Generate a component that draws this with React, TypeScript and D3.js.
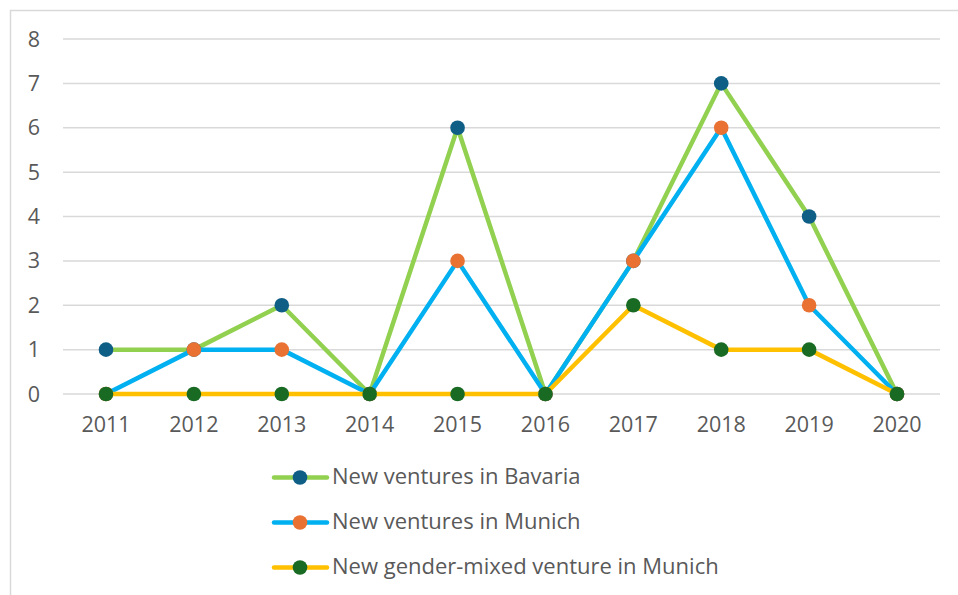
import React from "react";
import * as d3 from "d3";

const years = ["2011", "2012", "2013", "2014", "2015", "2016", "2017", "2018", "2019", "2020"];
const bavaria = [1, 1, 2, 0, 6, 0, 3, 7, 4, 0];
const munich = [0, 1, 1, 0, 3, 0, 3, 6, 2, 0];
const genderMixed = [0, 0, 0, 0, 0, 0, 2, 1, 1, 0];
const yTicks = [0, 1, 2, 3, 4, 5, 6, 7, 8];
const seriesNames = ["New ventures in Bavaria", "New ventures in Munich", "New gender-mixed venture in Munich"];

const series = [
  { name: seriesNames[0], values: bavaria, line: "#92D050", marker: "#0F5E86" },
  { name: seriesNames[1], values: munich, line: "#00B0F0", marker: "#E97132" },
  { name: seriesNames[2], values: genderMixed, line: "#FFC000", marker: "#196B24" },
];

export default function App() {
  const W = 958, H = 595;
  const x = d3.scalePoint<string>().domain(years).range([106, 897]);
  const y = d3.scaleLinear().domain([0, 8]).range([394, 39]);
  const line = d3.line<number>().x((_, i) => x(years[i])!).y((v) => y(v));
  const font = "'Open Sans', sans-serif";
  const textColor = "#595959";

  return (
    <svg width={W} height={H} style={{ position: "absolute", left: 0, top: 0 }}>
      <rect x={0} y={0} width={W} height={H} fill="#fff" />
      <rect x={10.5} y={10.5} width={W + 20} height={H + 20} fill="none" stroke="#d9d9d9" strokeWidth={1.5} />
      {yTicks.map((t) => (
        <g key={t}>
          <line x1={63} x2={940} y1={y(t)} y2={y(t)} stroke="#d9d9d9" strokeWidth={1.5} />
          <text x={34} y={y(t)} dy="0.35em" textAnchor="middle" fontFamily={font} fontSize={21.5} fill={textColor}>{t}</text>
        </g>
      ))}
      {years.map((yr) => (
        <text key={yr} x={x(yr)} y={424} dy="0.35em" textAnchor="middle" fontFamily={font} fontSize={21.5} fill={textColor}>{yr}</text>
      ))}
      {series.map((s) => (
        <g key={s.name}>
          <path d={line(s.values) || ""} fill="none" stroke={s.line} strokeWidth={4.5} strokeLinejoin="round" />
          {s.values.map((v, i) => (
            <circle key={i} cx={x(years[i])} cy={y(v)} r={7.3} fill={s.marker} />
          ))}
        </g>
      ))}
      {series.map((s, i) => {
        const ly = 477.5 + i * 45;
        return (
          <g key={"lg" + i}>
            <line x1={274} x2={327} y1={ly} y2={ly} stroke={s.line} strokeWidth={4.5} strokeLinecap="round" />
            <circle cx={300} cy={ly} r={7.3} fill={s.marker} />
            <text x={332} y={ly - 1} dy="0.35em" fontFamily={font} fontSize={22} fill={textColor}>{s.name}</text>
          </g>
        );
      })}
    </svg>
  );
}
